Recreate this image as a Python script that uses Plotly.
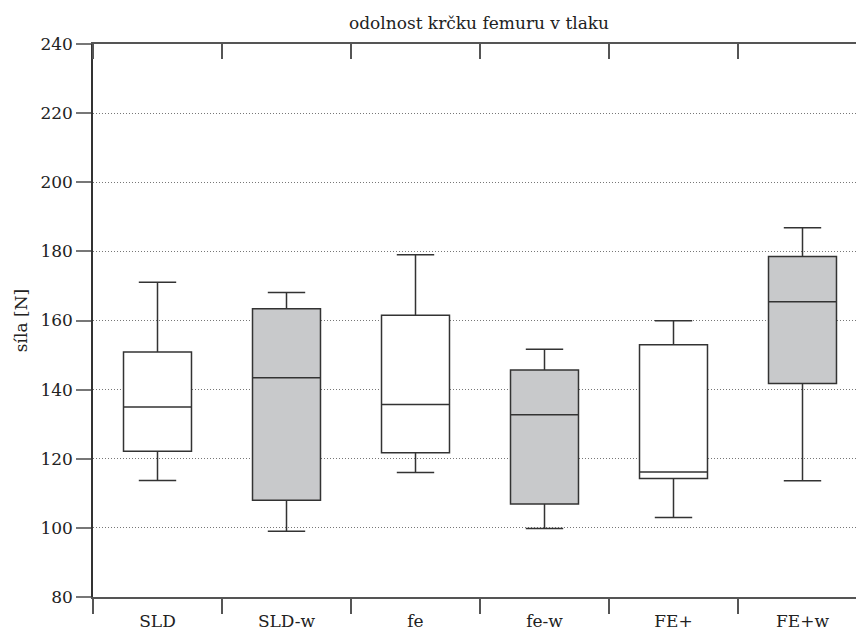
import plotly.graph_objects as go

categories = ["SLD", "SLD-w", "fe", "fe-w", "FE+", "FE+w"]
lower_whisker = [113.7, 99.0, 116.0, 99.8, 103.0, 113.6]
q1 = [122.2, 108.0, 121.7, 106.9, 114.3, 141.8]
median = [135.0, 143.4, 135.7, 132.7, 116.2, 165.4]
q3 = [150.9, 163.4, 161.5, 145.7, 153.0, 178.5]
upper_whisker = [171.1, 168.1, 179.0, 151.7, 159.9, 186.8]
fills = ["white", "#c8c9cb", "white", "#c8c9cb", "white", "#c8c9cb"]
y_ticks = [80, 100, 120, 140, 160, 180, 200, 220, 240]

FONT = "DejaVu Serif"
LINE = "#555555"
TXT = "#222222"

fig = go.Figure()
for i, cat in enumerate(categories):
    fig.add_trace(go.Box(
        x=[i], q1=[q1[i]], median=[median[i]], q3=[q3[i]],
        lowerfence=[lower_whisker[i]], upperfence=[upper_whisker[i]],
        width=0.527, whiskerwidth=0.55, fillcolor=fills[i],
        line=dict(color="#333333", width=1.5),
        boxpoints=False, showlegend=False, name=cat, hoverinfo="skip",
    ))

n = len(categories)
dividers = [i - 0.5 for i in range(n)]
xrange = [-0.5, -0.5 + 763 / 129]

fig.update_layout(
    width=856, height=630,
    margin=dict(l=93, r=0, t=44, b=33),
    plot_bgcolor="white", paper_bgcolor="white",
    font=dict(family=FONT, size=17, color=TXT),
    title=dict(text="odolnost krčku femuru v tlaku", x=479 / 856, xanchor="center",
               y=1 - 23 / 630, yanchor="middle", font=dict(family=FONT, size=17, color=TXT)),
    xaxis=dict(
        range=xrange, tickmode="array", tickvals=list(range(n)), ticktext=categories,
        ticks="", showgrid=False, zeroline=False, automargin=False,
        showline=True, linecolor=LINE, linewidth=1.5,
        minor=dict(tickmode="array", tickvals=dividers, ticks="outside", ticklen=15,
                   tickwidth=1.5, tickcolor=LINE, showgrid=False),
        ticklabelstandoff=8,
        tickfont=dict(family=FONT, size=17, color=TXT),
    ),
    xaxis2=dict(
        range=xrange, overlaying="x", side="top", showticklabels=False,
        ticks="", showgrid=False, zeroline=False, automargin=False,
        showline=True, linecolor=LINE, linewidth=1.5,
        minor=dict(tickmode="array", tickvals=dividers, ticks="inside", ticklen=15,
                   tickwidth=1.5, tickcolor=LINE, showgrid=False),
    ),
    yaxis=dict(
        range=[80, 240], tickmode="array", tickvals=y_ticks, automargin=False,
        ticks="outside", ticklen=15, tickwidth=2, tickcolor="#777777",
        showline=True, linecolor="#333333", linewidth=1.5, zeroline=False,
        showgrid=True, gridcolor="#777777", griddash="1px,2px", gridwidth=1,
        title=dict(text="síla [N]", standoff=8, font=dict(family=FONT, size=17, color=TXT)),
        tickfont=dict(family=FONT, size=17, color=TXT),
    ),
)
# invisible trace to activate the top axis
fig.add_trace(go.Scatter(x=[0], y=[None], xaxis="x2", showlegend=False, hoverinfo="skip"))

fig.write_html("out.html")
